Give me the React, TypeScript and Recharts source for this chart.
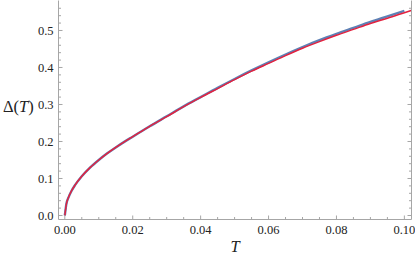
import React from "react";
import { LineChart, Line, XAxis, YAxis, Label } from "recharts";

const temps = [
  0, 0.0005, 0.001, 0.002, 0.003, 0.005, 0.0075, 0.01, 0.0125, 0.015, 0.0175, 0.02,
  0.025, 0.03, 0.035, 0.04, 0.045, 0.05, 0.055, 0.06, 0.065, 0.07, 0.075, 0.08,
  0.085, 0.09, 0.095, 0.1, 0.102,
];

const gapBlue = [
  0, 0.033, 0.047, 0.067, 0.082, 0.106, 0.13, 0.15, 0.168, 0.184, 0.199, 0.213,
  0.241, 0.268, 0.295, 0.32, 0.345, 0.369, 0.392, 0.414, 0.435, 0.455, 0.474, 0.491,
  0.507, 0.523, 0.538, 0.553, null,
];

const gapRed = [
  0, 0.033, 0.047, 0.067, 0.082, 0.106, 0.13, 0.15, 0.168, 0.184, 0.199, 0.213,
  0.241, 0.267, 0.294, 0.319, 0.343, 0.367, 0.39, 0.411, 0.432, 0.452, 0.47, 0.487,
  0.503, 0.519, 0.533, 0.548, 0.554,
];

const xMajor = [0, 0.02, 0.04, 0.06, 0.08, 0.1];
const xTicks = [
  0, 0.005, 0.01, 0.015, 0.02, 0.025, 0.03, 0.035, 0.04, 0.045, 0.05, 0.055, 0.06,
  0.065, 0.07, 0.075, 0.08, 0.085, 0.09, 0.095, 0.1,
];
const yMajor = [0, 0.1, 0.2, 0.3, 0.4, 0.5];
const yTicks = [
  0, 0.02, 0.04, 0.06, 0.08, 0.1, 0.12, 0.14, 0.16, 0.18, 0.2, 0.22, 0.24, 0.26,
  0.28, 0.3, 0.32, 0.34, 0.36, 0.38, 0.4, 0.42, 0.44, 0.46, 0.48, 0.5, 0.52, 0.54,
  0.56,
];

const data = temps.map((t, i) => ({ t, blue: gapBlue[i], red: gapRed[i] }));

const FONT = '"Liberation Serif", serif';
const FRAME = "#a6a6a6";
const TEXT = "#222";
const txt = { fontFamily: FONT, fill: TEXT };

const isMajor = (list: number[], v: number) => list.some((m) => Math.abs(m - v) < 1e-9);

// side: which frame edge the tick sits on; ticks point into the plot
const makeTick = (side: "bottom" | "top" | "left" | "right") => (props: any) => {
  const { x, y, payload } = props;
  const v = payload.value as number;
  const major = side === "bottom" || side === "top" ? isMajor(xMajor, v) : isMajor(yMajor, v);
  const len = major ? 4 : 2.5;
  let line;
  if (side === "bottom") line = <line x1={x} x2={x} y1={y} y2={y - len} stroke={FRAME} />;
  else if (side === "top") line = <line x1={x} x2={x} y1={y} y2={y + len} stroke={FRAME} />;
  else if (side === "left") line = <line x1={x} x2={x + len} y1={y} y2={y} stroke={FRAME} />;
  else line = <line x1={x} x2={x - len} y1={y} y2={y} stroke={FRAME} />;
  let label = null;
  if (major && side === "bottom") {
    label = (
      <text x={x} y={y + 14} textAnchor="middle" style={{ ...txt, fontSize: 12.5 }}>
        {v.toFixed(2)}
      </text>
    );
  } else if (major && side === "left") {
    label = (
      <text x={x - 5} y={y + 4.5} textAnchor="end" style={{ ...txt, fontSize: 12.5 }}>
        {v.toFixed(1)}
      </text>
    );
  }
  return (
    <g>
      {line}
      {label}
    </g>
  );
};

export default function App() {
  return (
    <div style={{ position: "absolute", left: 0, top: 0, fontFamily: FONT }}>
      <LineChart
        width={415}
        height={259}
        data={data}
        margin={{ top: 0.5, right: 0, bottom: 0, left: 0 }}
      >
        <XAxis
          xAxisId="b"
          dataKey="t"
          type="number"
          domain={[-0.00186, 0.1021]}
          allowDataOverflow
          ticks={xTicks}
          interval={0}
          tickSize={0}
          tickMargin={0}
          tickLine={false}
          height={39.5}
          axisLine={{ stroke: FRAME }}
          tick={makeTick("bottom")}
        >
          <Label
            content={(p: any) => {
              const vb = p.viewBox;
              return (
                <text
                  x={vb.x + vb.width / 2}
                  y={vb.y + 32}
                  textAnchor="middle"
                  style={{ ...txt, fontSize: 16.5, fontStyle: "italic" }}
                >
                  T
                </text>
              );
            }}
          />
        </XAxis>
        <XAxis
          xAxisId="t"
          dataKey="t"
          type="number"
          orientation="top"
          domain={[-0.00186, 0.1021]}
          allowDataOverflow
          ticks={xTicks}
          interval={0}
          tickSize={0}
          tickMargin={0}
          tickLine={false}
          height={0}
          axisLine={{ stroke: FRAME }}
          tick={makeTick("top")}
        />
        <YAxis
          yAxisId="l"
          type="number"
          domain={[-0.0108, 0.581]}
          allowDataOverflow
          ticks={yTicks}
          interval={0}
          tickSize={0}
          tickMargin={0}
          tickLine={false}
          width={58.5}
          axisLine={{ stroke: FRAME }}
          tick={makeTick("left")}
        >
          <Label
            content={(p: any) => {
              const vb = p.viewBox;
              return (
                <text x={3} y={vb.y + vb.height / 2 + 2} style={{ ...txt, fontSize: 16.5 }}>
                  <tspan>Δ(</tspan>
                  <tspan style={{ fontStyle: "italic" }}>T</tspan>
                  <tspan>)</tspan>
                </text>
              );
            }}
          />
        </YAxis>
        <YAxis
          yAxisId="r"
          type="number"
          orientation="right"
          domain={[-0.0108, 0.581]}
          allowDataOverflow
          ticks={yTicks}
          interval={0}
          tickSize={0}
          tickMargin={0}
          tickLine={false}
          width={3.5}
          axisLine={{ stroke: FRAME }}
          tick={makeTick("right")}
        />
        <Line
          xAxisId="b"
          yAxisId="l"
          dataKey="blue"
          type="monotone"
          stroke="#5e81b5"
          strokeWidth={2.4}
          dot={false}
          isAnimationActive={false}
        />
        <Line
          xAxisId="b"
          yAxisId="l"
          dataKey="red"
          type="monotone"
          stroke="#e3223f"
          strokeWidth={1.5}
          dot={false}
          isAnimationActive={false}
        />
      </LineChart>
    </div>
  );
}
